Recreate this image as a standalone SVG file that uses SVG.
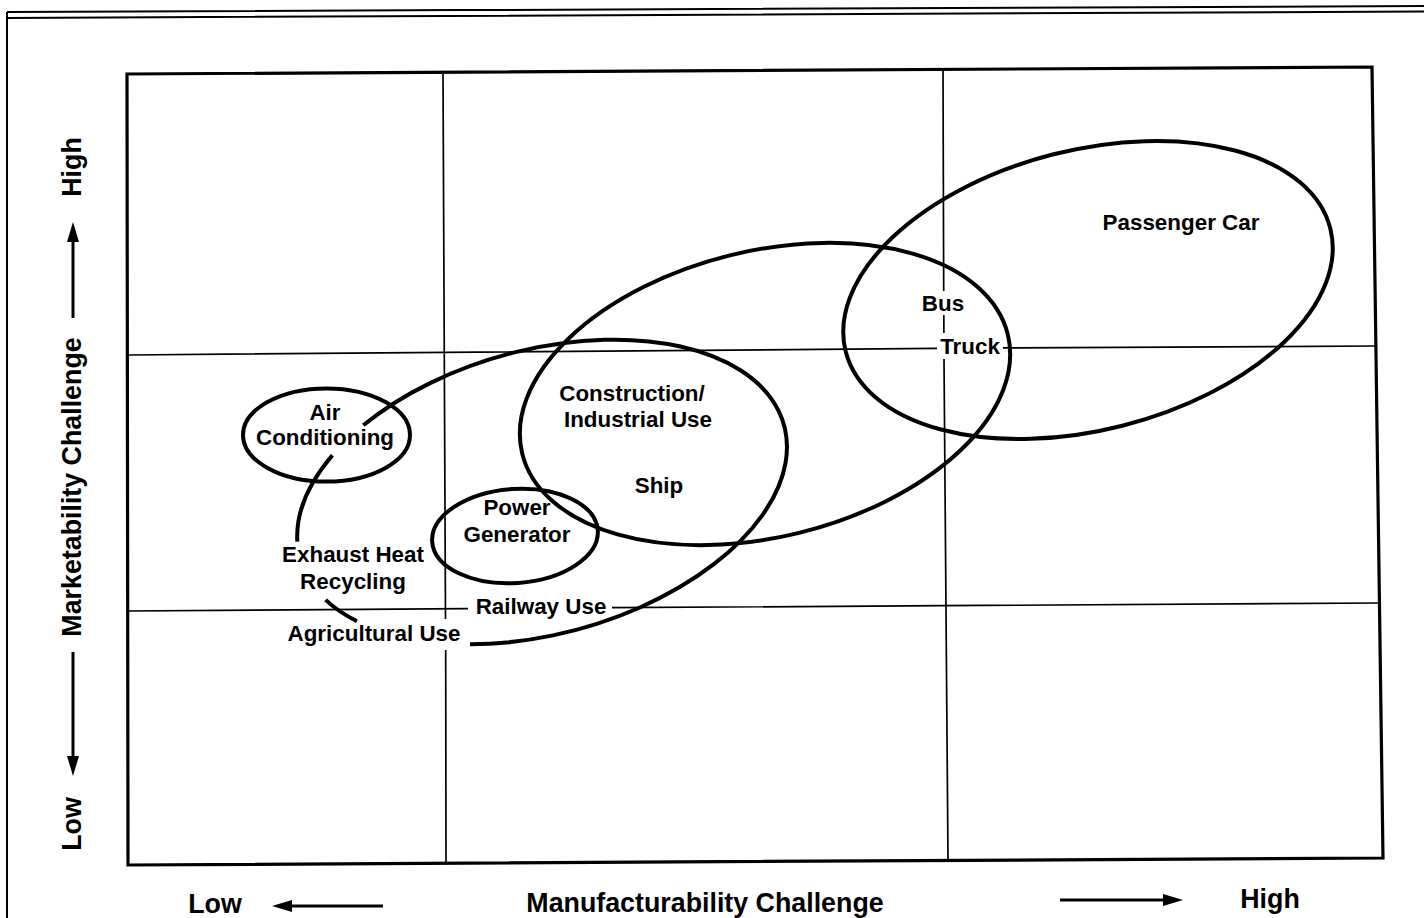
<svg xmlns="http://www.w3.org/2000/svg" width="1424" height="918" viewBox="0 0 1424 918">
<style>
.frame{fill:none;stroke:#000;stroke-width:2}
.box{fill:none;stroke:#000;stroke-width:3.2;stroke-linejoin:miter}
.grid{fill:none;stroke:#000;stroke-width:1.7}
.ell{fill:none;stroke:#000;stroke-width:4}
.lbl{font-family:"Liberation Sans",Arial,Helvetica,sans-serif;font-weight:bold;font-size:22.4px;fill:#000;text-anchor:middle}
.axis{font-family:"Liberation Sans",Arial,Helvetica,sans-serif;font-weight:bold;font-size:26.8px;fill:#000;text-anchor:middle}
.arr{fill:none;stroke:#000;stroke-width:3;marker-end:url(#ah)}
</style>
<defs>
<marker id="ah" markerUnits="userSpaceOnUse" markerWidth="22" markerHeight="14" refX="0" refY="7" orient="auto">
<path d="M0,1 L20,7 L0,13 z" fill="#000"/>
</marker>
</defs>
<rect x="0" y="0" width="1424" height="918" fill="#fff"/>
<g id="frame">
<path class="frame" d="M7,12 L1424,6 M7,18 L1424,11.5 M7,12 L7,918"/>
<path class="box" d="M127,74 L1372,67 L1383,858 L128,865 Z"/>
</g>
<g id="grid">
<path class="grid" d="M443,74 L445.5,619 M445.7,650 L446,864 M943,68 L943.7,291 M943.8,315 L943.9,333 M944,359 L948,860 M128,355 L937,348.4 M1003,347.9 L1377,346 M128,611 L468,608.7 M612,607.7 L1380,603"/>
</g>
<g id="axes">
<text class="axis" transform="translate(81,167) rotate(-90)">High</text>
<path class="arr" d="M73,318 L73,242"/>
<text class="axis" transform="translate(81,487) rotate(-90)">Marketability Challenge</text>
<path class="arr" d="M73,652 L73,756"/>
<text class="axis" transform="translate(81,824) rotate(-90)">Low</text>
<text class="axis" x="215" y="913">Low</text>
<path class="arr" d="M383,906 L292,906"/>
<text class="axis" x="705" y="912">Manufacturability Challenge</text>
<path class="arr" d="M1060,900 L1163,900"/>
<text class="axis" x="1270" y="908">High</text>
</g>
<g id="connectors"></g>
<g id="node-passenger-car">
<ellipse class="ell" cx="1088" cy="290" rx="250" ry="140" transform="rotate(-14.25 1088 290)"/>
<text class="lbl" x="1181" y="230">Passenger Car</text>
</g>
<g id="node-bus-truck-construction-ship">
<ellipse class="ell" cx="765" cy="394" rx="250" ry="143" transform="rotate(-13.8 765 394)"/>
<text class="lbl" x="943" y="311">Bus</text>
<text class="lbl" x="970" y="354">Truck</text>
<text class="lbl" x="632" y="401">Construction/</text>
<text class="lbl" x="638" y="427">Industrial Use</text>
<text class="lbl" x="659" y="493">Ship</text>
</g>
<g id="node-exhaust-railway-agricultural">
<path class="ell" d="M297.3,541.7 A251,142 -15.45 0 1 332.4,455.2 M363.3,425.3 A251,142 -15.45 1 1 470,644.3 M356.9,621.2 A251,142 -15.45 0 1 325.6,599.9"/>
<text class="lbl" x="353" y="562">Exhaust Heat</text>
<text class="lbl" x="353" y="589">Recycling</text>
<text class="lbl" x="541" y="614">Railway Use</text>
<text class="lbl" x="374" y="641">Agricultural Use</text>
</g>
<g id="node-air-conditioning">
<ellipse class="ell" cx="326.5" cy="435" rx="83.5" ry="46.5"/>
<text class="lbl" x="325" y="420">Air</text>
<text class="lbl" x="325" y="445">Conditioning</text>
</g>
<g id="node-power-generator">
<ellipse class="ell" cx="515" cy="536" rx="83" ry="47" transform="rotate(-4 515 536)"/>
<text class="lbl" x="517" y="515">Power</text>
<text class="lbl" x="517" y="542">Generator</text>
</g>
</svg>
